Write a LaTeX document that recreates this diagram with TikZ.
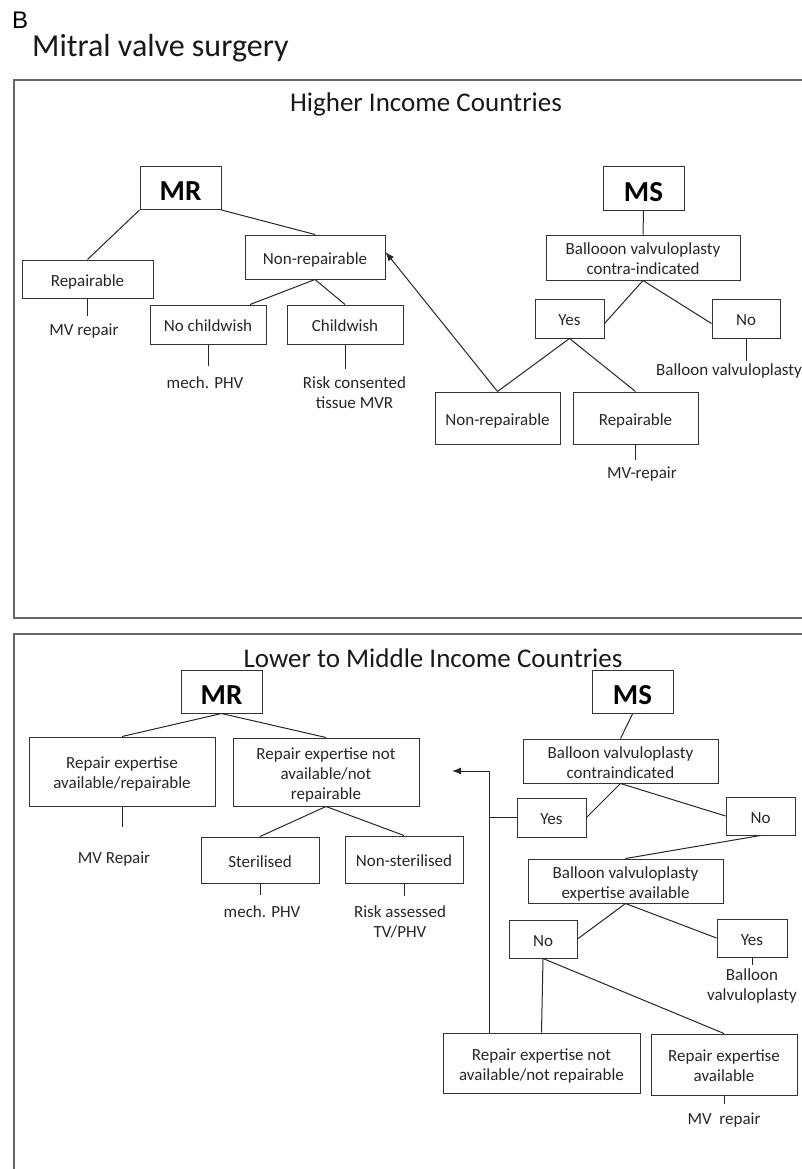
\documentclass[tikz,border=0pt]{standalone}
\usepackage{fontspec}
\setmainfont{Carlito}
\newfontfamily\panelfont{Liberation Sans}
\usetikzlibrary{arrows.meta}
\newcommand{\topstrut}{\rule[-0.25em]{0pt}{1.38em}}
\newcommand{\botstrut}{\rule[-0.25em]{0pt}{0.25em}}

\begin{document}
\begin{tikzpicture}[x=1pt,y=1pt,yscale=-1,xscale=1,
    box/.style={draw=black!80, line width=1pt, inner sep=0pt, align=center, text=black!85, font=\fontsize{17}{20}\selectfont,
        execute at begin node=\topstrut, execute at end node=\botstrut},
    head/.style={box, minimum width=81pt, minimum height=43pt, text=black, font=\fontsize{29}{30}\selectfont\bfseries},
    leaf/.style={inner sep=0pt, align=center, text=black!85, font=\fontsize{17}{20}\selectfont},
    link/.style={draw=black!85, line width=1pt},
    stub/.style={link, shorten >=#1},
    frame/.style={draw=black!60, line width=1.6pt},
    title/.style={inner sep=0pt, text=black!90, font=\fontsize{27}{30}\selectfont}]
    %uncomment if require: \path (0,1169); %diagram is 802 wide, 1169 high
    \useasboundingbox (0,0) rectangle (802,1169);

    % Frames
    \draw [frame] (802,80) -- (14,80) -- (14,618) -- (802,618) ;
    \draw [frame] (802,634) -- (14,634) -- (14,1169) ;

    % Text Node
    \node (panel) [anchor=base west, inner sep=0pt, font=\panelfont\fontsize{24}{26}\selectfont] at (12,29) {B};
    % Text Node
    \node (ttl) [title, anchor=base west, font=\fontsize{32}{35}\selectfont] at (32,57) {Mitral valve surgery};
    % Text Node
    \node (hic) [title, anchor=base] at (426,112) {Higher Income Countries};
    % Text Node
    \node (lmic) [title, anchor=base] at (433,667) {Lower to Middle Income Countries};

    %%% Higher income: MR
    \node (mrA) [head] at (180.5,188) {MR};
    \node (repA) [box, minimum width=131pt, minimum height=38pt] at (87.5,279) {Repairable};
    \node (nonrepA) [box, minimum width=140pt, minimum height=44pt] at (315,257) {Non-repairable};
    \node (nochildA) [box, minimum width=116pt, minimum height=39pt] at (208,324.5) {No childwish};
    \node (childA) [box, minimum width=116pt, minimum height=39pt] at (345,324.5) {Childwish};
    \node (mvA) [leaf, anchor=base] at (84,335) {MV repair};
    \node (phvA) [leaf, anchor=base] at (205,388) {mech. PHV};
    \node (tissueA) [leaf] at (354.5,393) {Risk consented\\tissue MVR};

    %%% Higher income: MS
    \node (msA) [head] at (643.5,188.5) {MS};
    \node (contraA) [box, minimum width=194pt, minimum height=45pt] at (643,257.5) {\topstrut Ballooon valvuloplasty\\contra-indicated};
    \node (yesA) [box, minimum width=69pt, minimum height=39pt] at (569.5,318.5) {Yes};
    \node (noA) [box, minimum width=68pt, minimum height=39pt] at (746,318.5) {No};
    \node (bvA) [leaf, anchor=base west] at (656,375) {Balloon valvuloplasty};
    \node (nonrepB) [box, minimum width=125pt, minimum height=52pt] at (497.5,418) {Non-repairable};
    \node (repB) [box, minimum width=125pt, minimum height=52pt] at (635.5,418) {Repairable};
    \node (mvB) [leaf, anchor=base] at (642,478) {MV-repair};

    % Connection
    \draw [link] (mrA.south west) -- (repA.north) ;
    \draw [link] (mrA.south east) -- (nonrepA.north) ;
    \draw [link] (nonrepA.south) -- ([xshift=42pt]nochildA.north) ;
    \draw [link] (nonrepA.south) -- (childA.north) ;
    \draw [stub=7pt] (repA.south) -- (repA.south |- mvA.north) ;
    \draw [stub=10pt] (nochildA.south) -- (nochildA.south |- phvA.north) ;
    \draw [stub=8pt] (childA.south) -- (childA.south |- tissueA.north) ;
    % Connection
    \draw [link] (msA.south) -- (contraA.north) ;
    \draw [link] (contraA.south) -- ([yshift=5pt]yesA.east) ;
    \draw [link] (contraA.south) -- ([yshift=5pt]noA.west) ;
    \draw [stub=2pt] (noA.south) -- (noA.south |- bvA.north) ;
    \draw [link] (yesA.south) -- (nonrepB.north) ;
    \draw [link] (yesA.south) -- (repB.north) ;
    \draw [stub=6pt] (repB.south) -- (repB.south |- mvB.north) ;
    % Connection
    \draw [link, -{Latex[length=9pt,width=7pt]}] (nonrepB.north) -- ([yshift=-5pt]nonrepA.east) ;

    %%% Lower to middle income: MR
    \node (mrC) [head] at (221.5,691.5) {MR};
    \node (expC) [box, minimum width=186pt, minimum height=69pt] at (122,771.5) {\topstrut Repair expertise\\available/repairable};
    \node (noexpC) [box, minimum width=186pt, minimum height=68pt] at (326,772) {\topstrut Repair expertise not\\available/not\\repairable};
    \node (sterC) [box, minimum width=118pt, minimum height=46pt] at (260,860) {Sterilised};
    \node (nonsterC) [box, minimum width=118pt, minimum height=47pt] at (404,859.5) {Non-sterilised};
    \node (mvC) [leaf, anchor=base] at (114,863) {MV Repair};
    \node (phvC) [leaf, anchor=base] at (262,917) {mech. PHV};
    \node (tvC) [leaf] at (400,921.5) {Risk assessed\\TV/PHV};

    %%% Lower to middle income: MS
    \node (msC) [head] at (632.5,692) {MS};
    \node (contraC) [box, minimum width=195pt, minimum height=44pt] at (620.5,761) {\topstrut Balloon valvuloplasty\\contraindicated};
    \node (yesC) [box, minimum width=69pt, minimum height=39pt] at (551.5,817.5) {Yes};
    \node (noC) [box, minimum width=69pt, minimum height=38pt] at (760.5,816) {No};
    \node (bvexpC) [box, minimum width=195pt, minimum height=44pt] at (625.5,881) {\topstrut Balloon valvuloplasty\\expertise available};
    \node (noD) [box, minimum width=68pt, minimum height=38pt] at (543,939) {No};
    \node (yesD) [box, minimum width=70pt, minimum height=38pt] at (752,938) {Yes};
    \node (bvD) [leaf] at (752,986) {Balloon\\valvuloplasty};
    \node (noexpD) [box, minimum width=197pt, minimum height=60pt] at (541.5,1063) {\topstrut Repair expertise not\\available/not repairable};
    \node (expD) [box, minimum width=146pt, minimum height=61pt] at (724,1064.5) {\topstrut Repair expertise\\available};
    \node (mvD) [leaf, anchor=base] at (724,1124) {MV\ \ repair};

    \coordinate (turn) at (489,771);
    \coordinate (tip) at (452,771);

    % Connection
    \draw [link] (mrC.south) -- (expC.north) ;
    \draw [link] (mrC.south) -- (noexpC.north) ;
    \draw [stub=24pt] (expC.south) -- (expC.south |- mvC.north) ;
    \draw [link] (noexpC.south) -- (sterC.north) ;
    \draw [link] (noexpC.south) -- (nonsterC.north) ;
    \draw [stub=10pt] (sterC.south) -- (sterC.south |- phvC.north) ;
    \draw [stub=9pt] (nonsterC.south) -- (nonsterC.south |- tvC.north) ;
    % Connection
    \draw [link] (msC.south) -- (contraC.north) ;
    \draw [link] (contraC.south) -- (yesC.east) ;
    \draw [link] (contraC.south) -- (noC.west) ;
    \draw [link] (noC.south) -- (bvexpC.north) ;
    \draw [link] (bvexpC.south) -- (noD.east) ;
    \draw [link] (bvexpC.south) -- (yesD.west) ;
    \draw [stub=4pt] (yesD.south) -- (yesD.south |- bvD.north) ;
    \draw [link] (noD.south) -- (noexpD.north) ;
    \draw [link] (noD.south) -- (expD.north) ;
    \draw [stub=8pt] (expD.south) -- (expD.south |- mvD.north) ;
    % Connection
    \draw [link] (yesC.west) -- (yesC.west -| turn) ;
    \draw [link, -{Latex[length=9pt,width=7pt]}] (noexpD.north -| turn) -- (turn) -- (tip) ;

\end{tikzpicture}
\end{document}
